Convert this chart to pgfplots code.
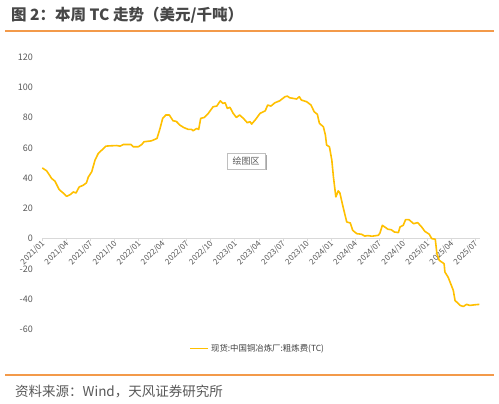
\documentclass[border=0pt]{standalone}
\usepackage{pgfplots}
\pgfplotsset{compat=1.18}
\usepackage{fontspec}
\setmainfont{Noto Sans CJK SC}
\definecolor{tcline}{HTML}{FFC000}
\definecolor{orangebar}{HTML}{F39A4A}
\definecolor{txt}{HTML}{595959}
\definecolor{axisgray}{HTML}{D9D9D9}
\begin{document}
\begin{tikzpicture}[x=1pt,y=1pt]
\path[use as bounding box, fill=white] (0,0) rectangle (499,404);
% title
\node[anchor=west, inner sep=0pt, text=black!72, font=\fontsize{15.5}{18}\selectfont\bfseries] at (11,389) {图 2：本周 TC 走势（美元/千吨）};
\draw[orangebar, line width=2pt] (5,373.3) -- (494,373.3);
\draw[orangebar, line width=2pt] (5,29.3) -- (494,29.3);
\node[anchor=west, inner sep=0pt, text=txt, font=\fontsize{13.5}{16}\selectfont] at (15,12) {资料来源：Wind，天风证券研究所};
\begin{axis}[
  at={(42.3pt,74.7pt)}, anchor=south west,
  scale only axis, width=437.9pt, height=272pt,
  xmin=0, xmax=54.6, ymin=-60, ymax=120,
  axis x line=middle, axis y line=left,
  hide obscured x ticks=false, hide obscured y ticks=false,
  axis line style={-},
  x axis line style={draw=axisgray, line width=0.8pt},
  y axis line style={draw=none},
  xtick={0,3,...,54},
  xticklabels={2021/01,2021/04,2021/07,2021/10,2022/01,2022/04,2022/07,2022/10,2023/01,2023/04,2023/07,2023/10,2024/01,2024/04,2024/07,2024/10,2025/01,2025/04,2025/07},
  ytick={-60,-40,...,120},
  x tick style={draw=axisgray, line width=0.6pt},
  xtick align=outside, major tick length=2.5pt,
  y tick style={draw=none},
  /pgf/number format/assume math mode=true,
  xticklabel style={rotate=45, anchor=east, inner sep=0pt, font=\fontsize{8}{9}\selectfont, text=txt, xshift=0pt, yshift=-1.5pt},
  yticklabel style={anchor=east, inner sep=0pt, xshift=-8pt, font=\fontsize{9}{10}\selectfont, text=txt},
  legend style={at={(0.3357,-0.0699)}, anchor=west, draw=none, fill=none, inner sep=0pt, font=\fontsize{8.4}{10}\selectfont, text=black!75},
  legend image code/.code={\draw[#1] (0pt,0pt) -- (18pt,0pt);},
  clip=false,
]
\addplot[tcline, line width=1.6pt, line join=round] coordinates {
(0,46.8) (0.55,44.8) (1.17,39.8) (1.58,38) (2.1,32.5) (2.6,30.2) (3.04,28) (3.5,29.2) (3.87,30.9) (4.2,30.2)
(4.6,34.2) (5.1,35.3) (5.5,36.9) (5.74,40.8) (6.16,44.2) (6.57,51.9) (6.98,56.4) (7.5,59) (7.94,61.2) (8.4,61.4)
(9.3,61.6) (9.7,61.2) (10.1,62.3) (11.06,62.3) (11.35,60.8) (11.97,60.8) (12.4,62.3) (12.68,64.1) (13.6,64.7) (14.3,66.3)
(14.68,72.9) (15.01,79.6) (15.4,81.8) (15.84,81.8) (16.3,78) (16.7,77.6) (17.17,75.1) (17.6,73.6) (18.2,72.3) (18.6,72.3)
(18.8,71.4) (19.25,72.9) (19.5,72.3) (19.75,79.6) (20.2,80.2) (20.7,82.9) (21.3,87.3) (21.75,87.7) (22.2,91.2) (22.5,89.5)
(22.8,89.9) (23.07,86.2) (23.4,86.9) (23.8,82.9) (24.2,80.2) (24.6,81.8) (25.07,79.6) (25.56,76.7) (25.9,77.4) (26.1,75.8)
(26.6,78.9) (27.15,82.9) (27.8,84.6) (28.1,88.4) (28.5,87.7) (29.0,89.9) (29.6,91.2) (30.26,93.9) (30.55,94.3) (30.85,93.2)
(31.3,92.8) (31.7,92.4) (32.05,93.9) (32.3,91.7) (32.97,90.6) (33.5,88.4) (33.9,84.0) (34.3,82.2) (34.55,76.3) (35.05,74)
(35.3,68.5) (35.45,61.9) (35.8,60.8) (36.1,51.9) (36.3,40.8) (36.6,27.6) (36.9,31.6) (37.1,30.3) (37.5,21) (37.96,11)
(38.4,10.4) (38.7,5.5) (39.2,3.3) (39.8,2.9) (40.2,1.7) (40.6,2.0) (41.1,1.6) (41.9,2.2) (42.1,3.7) (42.4,8.8)
(42.7,7.7) (43.1,6.2) (43.5,5.9) (43.9,4.4) (44.4,4.0) (44.6,7.7) (45.0,8.8) (45.3,12.6) (45.7,12.6) (46.3,9.9)
(46.8,10.6) (47.3,7.7) (47.7,4.8) (48.25,2.9) (48.55,0) (49.0,-0.4) (49.2,-9.9) (49.5,-14.4) (50.1,-16.6) (50.2,-22.1)
(50.6,-25.5) (51.25,-34.3) (51.46,-40.9) (52.1,-44.2) (52.5,-44.9) (52.9,-43.5) (53.3,-44.2) (53.9,-43.8) (54.5,-43.5)
};
\addlegendentry{现货:中国铜冶炼厂:粗炼费(TC)}
\end{axis}
% plot-area tooltip
\fill[black!35] (228.8,233.5) rectangle (266.5,249.2);
\draw[black!25, fill=white] (227.3,235) rectangle (265,250.7);
\node[text=txt, font=\fontsize{9}{10}\selectfont, inner sep=0pt] at (246.2,242.8) {绘图区};
\end{tikzpicture}
\end{document}
